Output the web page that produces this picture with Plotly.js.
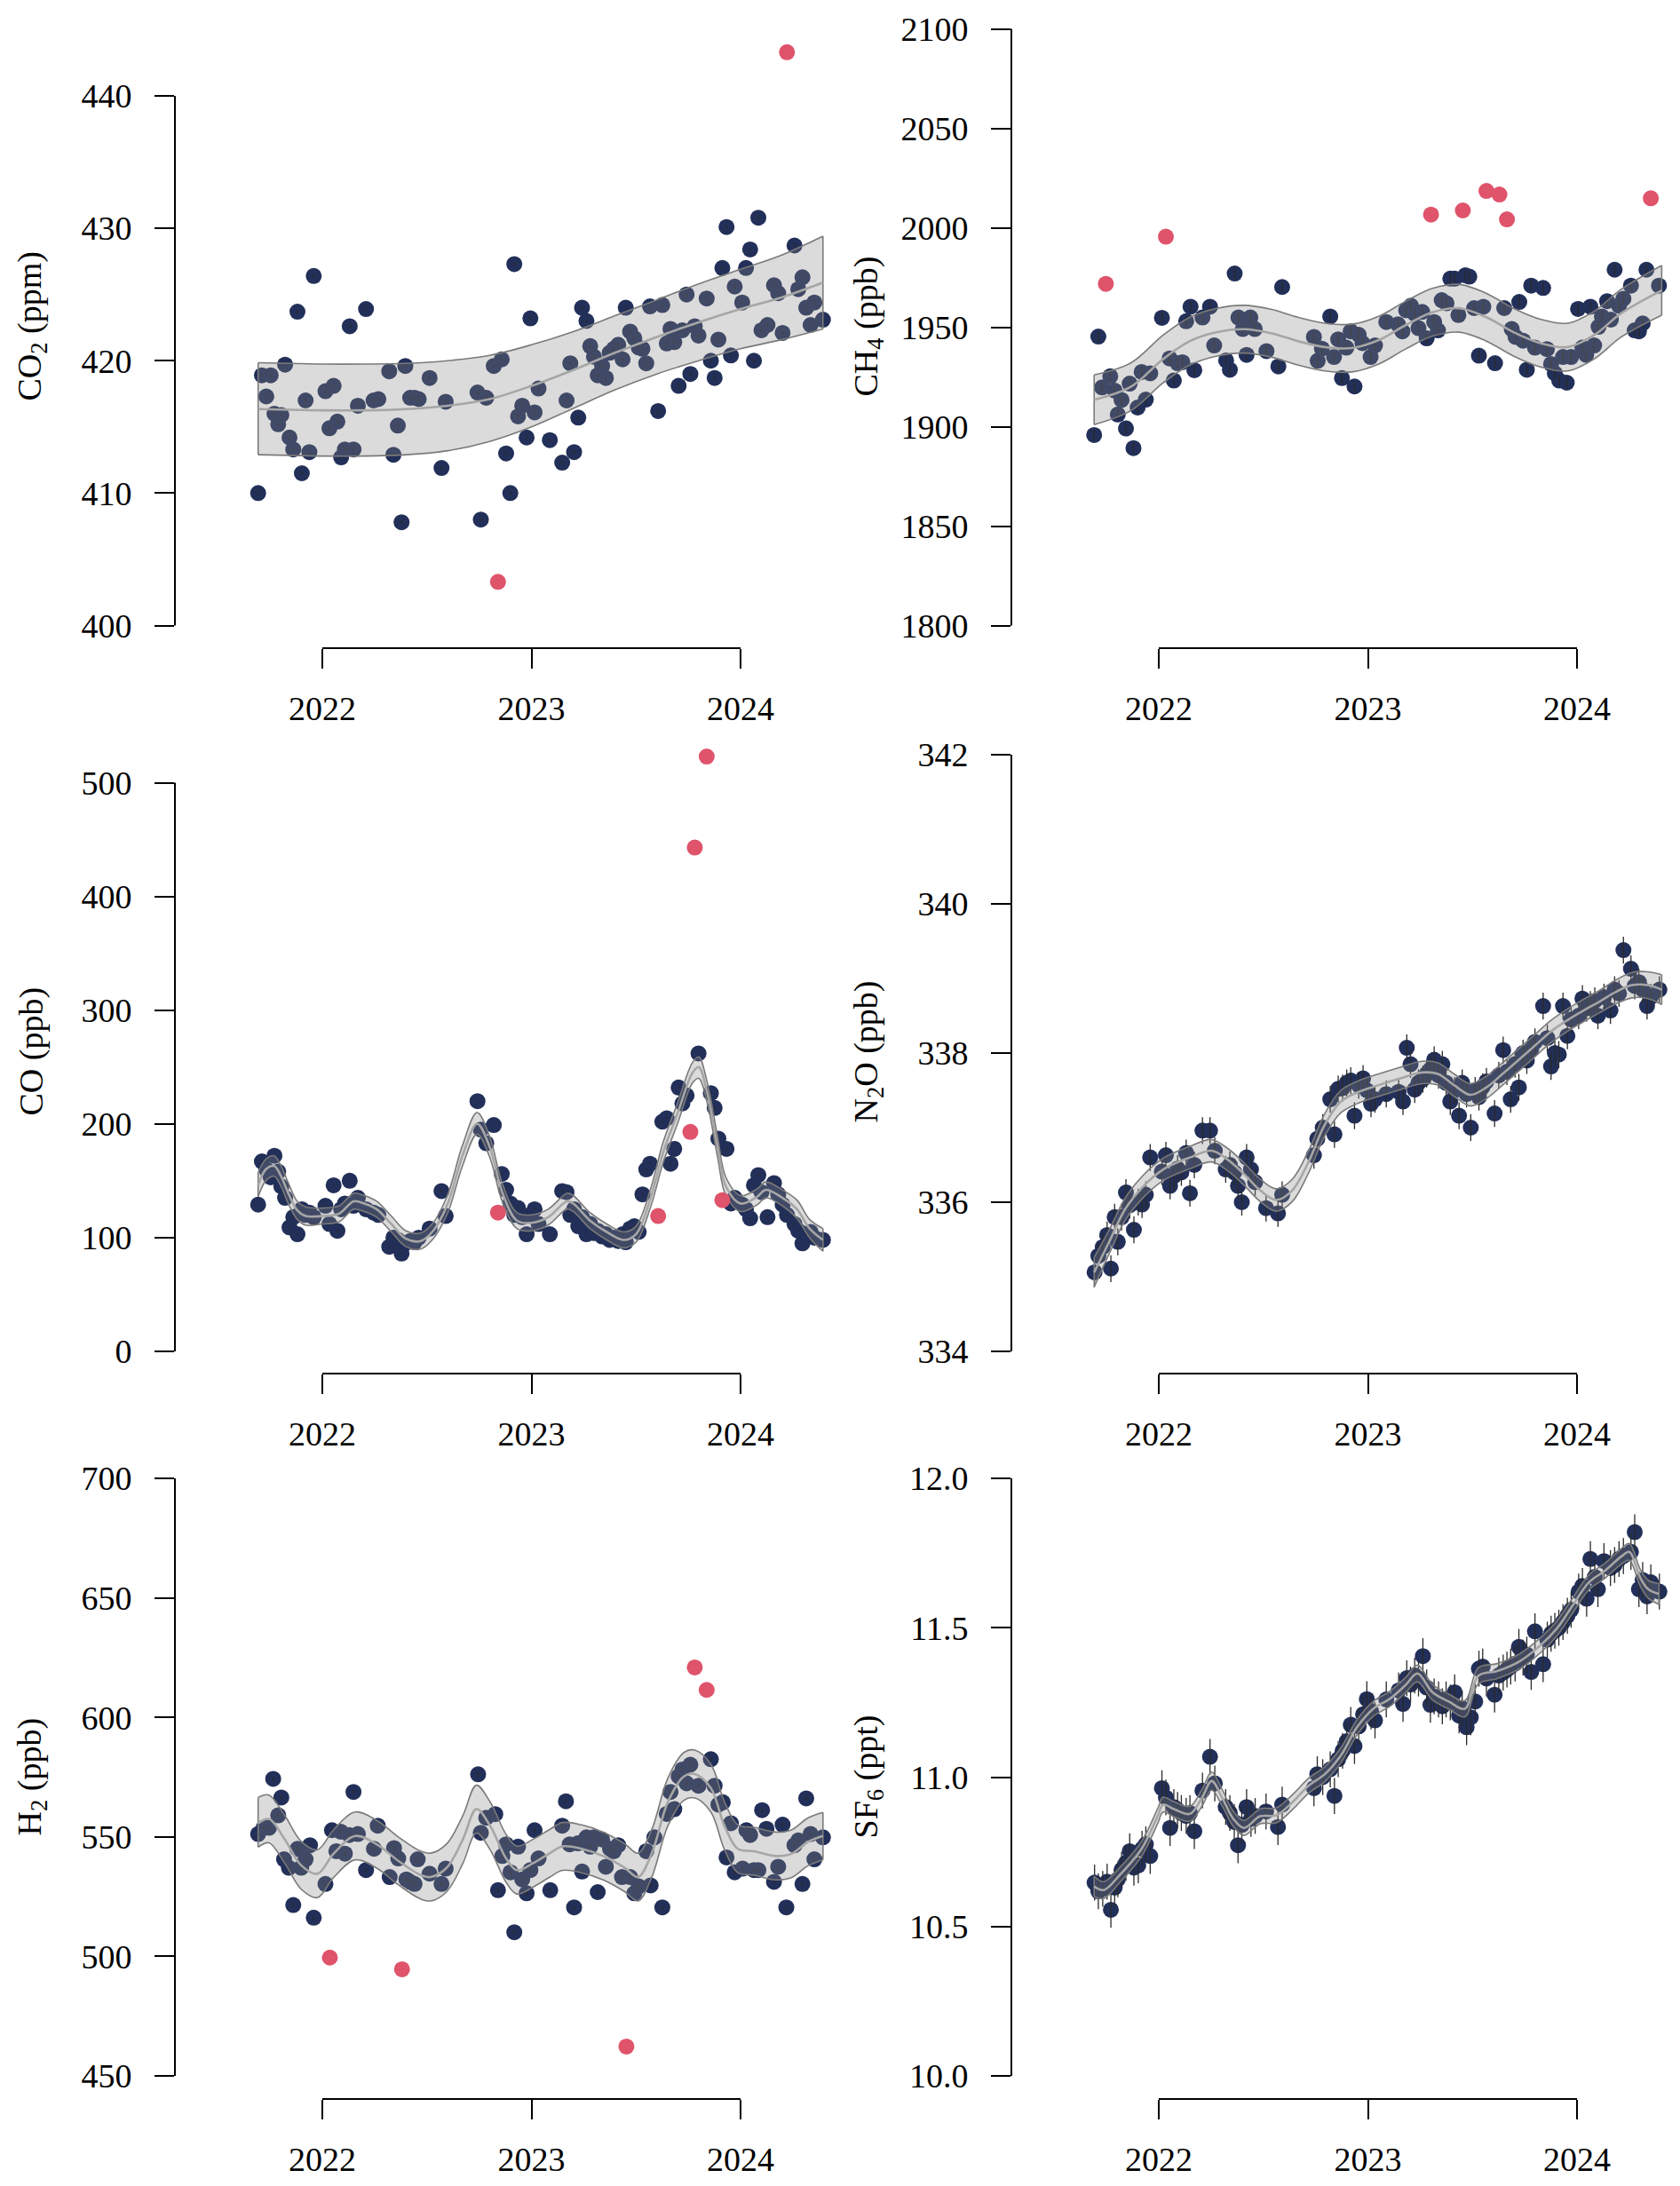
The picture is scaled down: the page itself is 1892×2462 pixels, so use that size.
<!DOCTYPE html>
<html>
<head>
<meta charset="utf-8">
<script src="https://cdn.plot.ly/plotly-3.0.1.min.js"></script>
<style>
  body { margin: 0; background: #fff; }
  #chart { width: 1892px; height: 2462px; }
</style>
</head>
<body>
<div id="chart"></div>
<script>
// sampling dates (decimal years) shared by CO2, CO, N2O and SF6
var sampleYears = [2021.693, 2021.711, 2021.732, 2021.753, 2021.771, 2021.789, 2021.804, 2021.822, 2021.843, 2021.861,
  2021.881, 2021.902, 2021.920, 2021.938, 2021.959, 2022.015, 2022.034, 2022.054, 2022.072, 2022.090,
  2022.108, 2022.131, 2022.149, 2022.170, 2022.209, 2022.245, 2022.268, 2022.320, 2022.340, 2022.361,
  2022.379, 2022.397, 2022.420, 2022.441, 2022.461, 2022.513, 2022.570, 2022.590, 2022.742, 2022.758,
  2022.784, 2022.820, 2022.840, 2022.858, 2022.879, 2022.899, 2022.918, 2022.936, 2022.956, 2022.977,
  2022.995, 2023.015, 2023.034, 2023.088, 2023.147, 2023.168, 2023.186, 2023.204, 2023.224, 2023.242,
  2023.263, 2023.281, 2023.299, 2023.317, 2023.338, 2023.356, 2023.374, 2023.394, 2023.415, 2023.436,
  2023.451, 2023.472, 2023.492, 2023.513, 2023.531, 2023.549, 2023.567, 2023.606, 2023.626, 2023.647,
  2023.665, 2023.683, 2023.704, 2023.722, 2023.742, 2023.760, 2023.781, 2023.799, 2023.838, 2023.858,
  2023.876, 2023.894, 2023.913, 2023.933, 2023.954, 2023.972, 2024.008, 2024.026, 2024.046, 2024.064,
  2024.085, 2024.100, 2024.129, 2024.160, 2024.180, 2024.201, 2024.222, 2024.258, 2024.276, 2024.296,
  2024.314, 2024.335, 2024.353, 2024.394];

// ---- CO2 (ppm) ----
var co2Vals = [410.0, 418.9, 417.3, 418.9, 416.0, 415.2, 415.9, 419.7, 414.2, 413.3,
  423.7, 411.5, 417.0, 413.1, 426.4, 417.7, 414.9, 418.1, 415.4, 412.7,
  413.3, 422.6, 413.3, 416.6, 423.9, 417.0, 417.1, 419.2, 412.9, 415.1,
  407.8, 419.6, 417.2, 417.2, 417.1, 418.7, 411.9, 416.9, 417.6, 408.0,
  417.2, 419.6, null, 420.1, 413.0, 410.0, 427.3, 415.8, 416.6, 414.2,
  423.2, 416.1, 417.9, 414.0, 412.3, 417.0, 419.8, 413.1, 415.7, 424.0,
  423.0, 421.1, 420.3, 418.9, 419.6, 418.7, 420.6, 420.9, 421.2, 420.1,
  424.0, 422.2, 421.7, 421.0, 420.9, 419.8, 424.1, 416.2, 424.2, 421.3,
  422.4, 421.4, 418.1, 422.3, 425.0, 419.0, 422.6, 421.9, 424.7, 420.0,
  418.7, 421.6, 427.0, 430.1, 420.4, 425.6, 424.4, 427.0, 428.4, 420.0,
  430.8, 422.3, 422.7, 425.7, 425.1, 422.1, null, 428.7, 425.4, 426.3,
  424.0, 422.7, 424.4, 423.1];
var co2OutYears = [2022.840, 2024.222];
var co2OutVals = [403.3, 443.3];
var co2BandYears = [2021.693, 2021.85, 2022.0, 2022.2, 2022.4, 2022.6, 2022.8, 2023.0, 2023.2, 2023.4, 2023.6, 2023.8, 2024.0, 2024.2, 2024.394];
var co2BandLo  = [412.9, 412.85, 412.8, 412.8, 412.9, 413.2, 413.9, 415.0, 416.4, 417.8, 419.0, 420.0, 420.9, 421.6, 422.4];
var co2BandMid = [416.35, 416.3, 416.25, 416.25, 416.35, 416.6, 417.1, 418.1, 419.3, 420.6, 421.8, 422.9, 423.9, 424.8, 425.9];
var co2BandHi  = [419.85, 419.8, 419.75, 419.75, 419.8, 420.0, 420.4, 421.2, 422.2, 423.4, 424.6, 425.8, 426.9, 428.0, 429.4];

// ---- CH4 (ppb) ----
var ch4Years = [2021.691, 2021.711, 2021.729, 2021.768, 2021.789, 2021.804, 2021.822, 2021.843, 2021.861, 2021.879,
  2021.899, 2021.918, 2021.938, 2021.959, 2022.015, 2022.052, 2022.072, 2022.090, 2022.113, 2022.131,
  2022.152, 2022.170, 2022.209, 2022.245, 2022.265, 2022.322, 2022.340, 2022.363, 2022.381, 2022.402,
  2022.420, 2022.438, 2022.459, 2022.515, 2022.572, 2022.590, 2022.742, 2022.760, 2022.780, 2022.820,
  2022.838, 2022.858, 2022.876, 2022.897, 2022.918, 2022.936, 2022.956, 2022.974, 2023.013, 2023.034,
  2023.088, 2023.144, 2023.165, 2023.183, 2023.206, 2023.224, 2023.242, 2023.260, 2023.281, 2023.317,
  2023.335, 2023.353, 2023.376, 2023.394, 2023.415, 2023.433, 2023.466, 2023.485, 2023.508, 2023.531,
  2023.552, 2023.608, 2023.652, 2023.688, 2023.706, 2023.724, 2023.742, 2023.760, 2023.781, 2023.799,
  2023.838, 2023.856, 2023.876, 2023.894, 2023.915, 2023.933, 2023.951, 2023.972, 2024.005, 2024.026,
  2024.044, 2024.064, 2024.082, 2024.103, 2024.119, 2024.144, 2024.162, 2024.180, 2024.201, 2024.222,
  2024.258, 2024.276, 2024.296, 2024.314, 2024.332, 2024.392];
var ch4Vals = [1895.8, 1945.3, 1919.7, 1925.3, 1918.1, 1906.1, 1913.4, 1899.1, 1921.6, 1889.2,
  1909.6, 1927.5, 1913.6, 1926.8, 1954.7, 1934.3, 1923.2, 1931.9, 1932.4, 1953.0,
  1960.3, 1928.4, 1954.9, 1960.3, 1940.8, 1933.3, 1928.6, 1977.0, 1954.9, 1949.1,
  1936.1, 1954.9, 1949.1, 1938.0, 1930.3, 1970.2, 1945.1, 1933.1, 1939.2, 1955.4,
  1935.0, 1943.9, 1924.4, 1939.7, 1947.9, 1920.2, 1946.2, 1942.0, 1935.0, 1940.8,
  1952.6, 1951.4, 1947.9, 1958.5, 1960.8, 1956.8, 1949.5, 1957.7, 1944.4, 1952.6,
  1948.4, 1963.6, 1962.0, 1974.4, 1974.4, 1956.1, 1976.1, 1975.4, 1959.6, 1935.7,
  1960.3, 1931.9, 1959.6, 1949.1, 1945.1, 1962.7, 1943.2, 1928.6, 1970.9, 1939.7,
  1969.7, 1939.0, 1931.5, 1926.8, 1923.2, 1935.0, 1922.1, 1935.0, 1959.2, 1939.7,
  1936.1, 1960.3, 1940.8, 1950.2, 1955.4, 1963.1, 1953.8, 1978.9, 1960.8, 1964.3,
  1970.9, 1948.4, 1947.9, 1951.9, 1978.9, 1970.9];
var ch4OutYears = [2021.747, 2022.034, 2023.302, 2023.454, 2023.567, 2023.629, 2023.665, 2024.353];
var ch4OutVals = [1971.8, 1995.5, 2006.6, 2008.7, 2018.5, 2016.7, 2004.2, 2014.8];
var ch4BandYears = [2021.691, 2021.866, 2022.021, 2022.149, 2022.278, 2022.407, 2022.536, 2022.665, 2022.794, 2022.923, 2023.052,
  2023.180, 2023.309, 2023.438, 2023.567, 2023.696, 2023.825, 2023.954, 2024.082, 2024.211, 2024.405];
var ch4BandLo  = [1901, 1908, 1922, 1931, 1935.5, 1937, 1935, 1931, 1928, 1927.5, 1931.5, 1939, 1945.5, 1947.5, 1943, 1935.5, 1930, 1928, 1934, 1945, 1956];
var ch4BandMid = [1913.5, 1920, 1934, 1943, 1947.5, 1949, 1947, 1943, 1940, 1939.5, 1943.5, 1951, 1957.5, 1959.5, 1955, 1947.5, 1942, 1940, 1946, 1957, 1968.5];
var ch4BandHi  = [1926, 1932, 1946, 1955, 1959.5, 1961, 1959, 1955, 1952, 1951.5, 1955.5, 1963, 1969.5, 1971.5, 1967, 1959.5, 1954, 1952, 1958, 1969, 1981];

// ---- CO (ppb) ----
var coVals = [129, 167, 160, 153, 172, 158, 145, 135, 109, 118,
  103, 125, 120, 122, 118, 128, 112, 146, 106, 125,
  130, 150, 128, 135, 125, 122, 120, 92, 100, 98,
  86, 95, 97, 96, 100, 108, 141, 119, 220, 195,
  183, 199, null, 156, 142, 130, 120, 126, 118, 103,
  120, 125, 112, 103, 141, 140, 120, 125, 110, 118,
  103, 112, 104, 106, 101, 103, 98, 100, 97, 103,
  96, 108, 110, 105, 138, 160, 165, null, 202, 205,
  165, 178, 232, 218, 225, null, null, 262, null, 227,
  214, 187, null, 178, 130, 135, 129, 125, 117, 146,
  155, 140, 118, 148, 138, 129, 120, 112, 106, 95,
  103, 105, 100, 98];
var coOutYears = [2022.840, 2023.606, 2023.760, 2023.781, 2023.838, 2023.913];
var coOutVals = [122, 119, 193, 443, 523, 133];
var coBandYears = [2021.693, 2021.73, 2021.77, 2021.80, 2021.84, 2021.88, 2021.92, 2022.00, 2022.08, 2022.15, 2022.20, 2022.26,
  2022.33, 2022.40, 2022.47, 2022.53, 2022.60, 2022.67, 2022.74, 2022.80, 2022.86, 2022.93, 2023.00, 2023.08,
  2023.17, 2023.20, 2023.28, 2023.36, 2023.44, 2023.50, 2023.57, 2023.63, 2023.70, 2023.77, 2023.80, 2023.84,
  2023.89, 2023.93, 2024.00, 2024.08, 2024.12, 2024.20, 2024.27, 2024.33, 2024.394];
var coBandLo  = [136, 150, 154, 146, 129, 116, 111, 112, 114, 125, 123, 118, 105, 92, 90, 99, 122, 163, 191, 171, 132, 108, 106, 111,
  125, 123, 108, 98, 91, 96, 127, 166, 201, 236, 240, 219, 171, 137, 123, 129, 135, 128, 117, 100, 88];
var coBandMid = [146, 160, 163, 155, 138, 124, 119, 119, 121, 132, 130, 125, 112, 99, 97, 106, 130, 172, 200, 180, 140, 115, 113, 118,
  132, 130, 115, 105, 98, 103, 135, 175, 210, 245, 250, 228, 180, 145, 130, 136, 142, 135, 125, 108, 98];
var coBandHi  = [157, 169, 172, 164, 147, 132, 127, 126, 128, 139, 137, 132, 119, 106, 104, 113, 138, 181, 210, 189, 148, 122, 120, 125,
  139, 137, 122, 112, 105, 110, 143, 184, 219, 254, 259, 237, 189, 153, 137, 143, 149, 142, 133, 116, 108];

// ---- N2O (ppb) ----
var n2oVals = [335.06, 335.28, 335.40, 335.56, 335.11, 335.80, 335.47, 335.80, 336.13, 335.96,
  335.63, 336.00, 335.97, 336.10, 336.60, 336.41, 336.63, 336.22, 336.35, 336.45,
  336.40, 336.66, 336.12, 336.50, 336.96, 336.96, 336.69, 336.44, 336.50, 336.40,
  336.22, 336.00, 336.60, 336.44, 336.27, 335.92, 335.85, 336.10, 336.63, 336.85,
  337.00, 337.38, 336.91, 337.52, 337.53, 337.60, 337.63, 337.16, 337.57, 337.66,
  337.50, 337.32, 337.38, 337.45, 337.48, 337.35, 338.07, 337.85, 337.51, 337.60,
  337.65, 337.72, 337.78, 337.91, 337.70, 337.85, 337.60, 337.35, 337.50, 337.16,
  337.60, 337.45, 337.00, 337.50, 337.41, 337.55, 337.62, 337.19, 337.70, 338.04,
  337.75, 337.38, 337.85, 337.54, 338.00, 337.90, 338.05, 338.15, 338.63, 338.20,
  337.82, 338.00, 337.98, 338.63, 338.23, 338.45, 338.50, 338.73, 338.60, 338.65,
  338.70, 338.50, 338.75, 338.57, 338.85, 338.80, 339.38, 339.13, 338.90, 338.95,
  338.85, 338.63, 338.75, 338.85];
var n2oOutYears = [];
var n2oOutVals = [];
var n2oBandYears = [2021.691, 2021.763, 2021.840, 2021.918, 2022.021, 2022.149, 2022.253, 2022.330, 2022.407, 2022.485, 2022.562, 2022.639,
  2022.716, 2022.794, 2022.871, 2022.948, 2023.052, 2023.155, 2023.258, 2023.335, 2023.412, 2023.490, 2023.567, 2023.644,
  2023.722, 2023.799, 2023.876, 2023.954, 2024.031, 2024.108, 2024.186, 2024.263, 2024.340, 2024.405];
var n2oBandLo  = [334.86, 335.31, 335.76, 336.04, 336.29, 336.45, 336.54, 336.42, 336.23, 336.01, 335.88, 336.01,
  336.39, 336.89, 337.20, 337.32, 337.42, 337.51, 337.59, 337.57, 337.42, 337.29, 337.39, 337.57,
  337.76, 337.95, 338.14, 338.29, 338.42, 338.54, 338.66, 338.74, 338.73, 338.65];
var n2oBandMid = [335.06, 335.47, 335.91, 336.19, 336.44, 336.60, 336.69, 336.57, 336.38, 336.16, 336.03, 336.16,
  336.54, 337.04, 337.35, 337.47, 337.57, 337.66, 337.74, 337.72, 337.57, 337.44, 337.54, 337.72,
  337.91, 338.10, 338.29, 338.44, 338.57, 338.69, 338.82, 338.91, 338.91, 338.85];
var n2oBandHi  = [335.26, 335.63, 336.06, 336.34, 336.59, 336.75, 336.84, 336.72, 336.53, 336.31, 336.18, 336.31,
  336.69, 337.19, 337.50, 337.62, 337.72, 337.81, 337.89, 337.87, 337.72, 337.59, 337.69, 337.87,
  338.06, 338.25, 338.44, 338.59, 338.72, 338.84, 338.98, 339.08, 339.09, 339.05];

// ---- H2 (ppb) ----
var h2Years = [2021.693, 2021.719, 2021.745, 2021.765, 2021.789, 2021.804, 2021.817, 2021.840, 2021.861, 2021.881,
  2021.899, 2021.920, 2021.941, 2021.959, 2022.015, 2022.046, 2022.067, 2022.088, 2022.108, 2022.129,
  2022.149, 2022.170, 2022.209, 2022.247, 2022.265, 2022.322, 2022.343, 2022.363, 2022.402, 2022.420,
  2022.441, 2022.456, 2022.513, 2022.570, 2022.590, 2022.745, 2022.758, 2022.784, 2022.827, 2022.840,
  2022.861, 2022.879, 2022.900, 2022.918, 2022.936, 2022.956, 2022.977, 2022.995, 2023.015, 2023.034,
  2023.090, 2023.147, 2023.165, 2023.183, 2023.204, 2023.222, 2023.242, 2023.263, 2023.281, 2023.299,
  2023.317, 2023.338, 2023.356, 2023.376, 2023.394, 2023.415, 2023.433, 2023.472, 2023.492, 2023.513,
  2023.549, 2023.570, 2023.588, 2023.626, 2023.647, 2023.665, 2023.683, 2023.704, 2023.722, 2023.742,
  2023.760, 2023.799, 2023.858, 2023.876, 2023.894, 2023.915, 2023.933, 2023.954, 2023.972, 2024.010,
  2024.028, 2024.046, 2024.064, 2024.085, 2024.103, 2024.124, 2024.160, 2024.180, 2024.201, 2024.219,
  2024.258, 2024.276, 2024.296, 2024.314, 2024.335, 2024.353, 2024.394];
var h2Vals = [551.2, 553.8, 553.8, 574.3, 559.0, 566.5, 540.6, 537.1, 521.5, 545.0,
  537.1, 540.6, 546.5, 516.2, 530.3, 552.8, 544.0, 552.2, 543.0, 550.8,
  568.8, 551.2, 536.1, 545.0, 554.7, 533.2, 545.3, 541.0, 532.2, 531.2,
  530.3, 540.6, 534.6, 530.3, 536.7, 576.2, 551.7, 558.0, 559.5, 527.7,
  542.0, 546.9, 535.2, 510.1, 545.9, 532.2, 526.4, 536.1, 552.8, 541.0,
  527.7, 554.7, 564.9, 546.9, 520.5, 547.3, 535.5, 549.8, 545.9, 549.8,
  526.9, 548.9, 537.5, 545.0, 544.0, 546.5, 533.2, 533.2, 526.4, 529.3,
  544.0, 529.7, 549.8, 520.5, 559.6, 568.8, 561.6, 575.3, 578.2, 572.4,
  580.2, 571.4, 582.5, 571.4, 563.5, 564.5, 541.4, 555.7, 535.2, 536.7,
  552.8, 550.8, 536.1, 536.1, 561.2, 553.4, 531.2, 537.5, 555.1, 520.5,
  546.5, 548.5, 530.3, 566.1, 551.2, 540.6, 549.8];
var h2OutYears = [2022.036, 2022.381, 2023.454, 2023.781, 2023.838];
var h2OutVals = [499.5, 494.6, 462.3, 620.9, 611.5];
var h2BandYears = [2021.693, 2021.745, 2021.82, 2021.90, 2021.977, 2022.054, 2022.157, 2022.260, 2022.363, 2022.466, 2022.518, 2022.595,
  2022.672, 2022.737, 2022.802, 2022.879, 2022.930, 2023.008, 2023.085, 2023.149, 2023.240, 2023.343, 2023.446, 2023.510,
  2023.575, 2023.652, 2023.729, 2023.781, 2023.858, 2023.923, 2023.987, 2024.064, 2024.168, 2024.245, 2024.322, 2024.394];
var h2BandLo  = [545.7, 547.5, 539, 528, 524.6, 533, 540.4, 536.9, 530, 524.2, 523.2, 527.1,
  538.9, 551.6, 544.7, 531, 526.1, 529, 533, 536, 535, 532, 527.1, 523.2,
  533, 554.5, 565.3, 566.3, 560.4, 544.7, 535, 534, 532, 533, 537.9, 540.4];
var h2BandMid = [555.7, 557.5, 549, 538, 534.6, 543, 550.4, 546.9, 540, 534.2, 533.2, 537.1,
  548.9, 561.6, 554.7, 541, 536.1, 539, 543, 546, 545, 542, 537.1, 533.2,
  543, 564.5, 575.3, 576.3, 570.4, 554.7, 545, 544, 542, 543, 547.9, 550.4];
var h2BandHi  = [566.5, 567.5, 559, 548, 544.6, 553, 560.4, 556.9, 550, 544.2, 543.2, 547.1,
  558.9, 571.6, 564.7, 551, 546.1, 549, 553, 556, 555, 552, 547.1, 543.2,
  553, 574.5, 585.3, 586.3, 580.4, 564.7, 555, 554, 552, 553, 557.9, 560.2];

// ---- SF6 (ppt) ----
var sf6Vals = [10.647, 10.618, 10.626, 10.650, 10.556, 10.630, 10.658, 10.690, 10.713, 10.752,
  10.697, 10.705, 10.760, 10.775, 10.736, 10.963, 10.932, 10.830, 10.900, 10.890,
  10.880, 10.870, 10.880, 10.819, 10.955, 11.068, 10.979, 10.900, 10.880, 10.850,
  10.772, 10.840, 10.900, 10.860, 10.870, 10.885, 10.833, 10.908, 10.963, 11.010,
  11.000, 11.026, 10.937, 11.060, 11.088, 11.120, 11.175, 11.104, 11.170, 11.210,
  11.261, 11.220, 11.190, 11.260, 11.290, 11.245, 11.331, 11.310, 11.340, 11.330,
  11.405, 11.300, 11.242, 11.270, 11.260, 11.237, 11.260, 11.250, 11.284, 11.206,
  11.230, 11.167, 11.200, 11.253, 11.363, 11.370, 11.330, 11.276, 11.340, 11.350,
  11.360, 11.370, 11.380, 11.436, 11.400, 11.410, 11.352, 11.488, 11.378, 11.460,
  11.480, 11.490, 11.500, 11.519, 11.540, 11.560, 11.621, 11.640, 11.597, 11.730,
  11.670, 11.629, 11.723, 11.700, 11.710, 11.730, 11.740, 11.754, 11.820, 11.629,
  11.660, 11.605, 11.652, 11.621];
var sf6OutYears = [];
var sf6OutVals = [];
var sf6BandYears = [2021.691, 2021.737, 2021.814, 2021.918, 2021.995, 2022.021, 2022.072, 2022.149, 2022.206, 2022.253,
  2022.304, 2022.356, 2022.407, 2022.485, 2022.562, 2022.639, 2022.716, 2022.794, 2022.871, 2022.948,
  2023.026, 2023.103, 2023.180, 2023.237, 2023.309, 2023.387, 2023.464, 2023.528, 2023.619, 2023.722,
  2023.825, 2023.902, 2023.979, 2024.057, 2024.134, 2024.211, 2024.250, 2024.302, 2024.340, 2024.392];
var sf6BandLo  = [10.600, 10.594, 10.648, 10.735, 10.845, 10.883, 10.868, 10.852, 10.902, 10.957,
  10.903, 10.836, 10.805, 10.844, 10.847, 10.891, 10.946, 10.985, 11.048, 11.142,
  11.204, 11.236, 11.283, 11.319, 11.258, 11.228, 11.202, 11.312, 11.330, 11.361,
  11.416, 11.471, 11.549, 11.627, 11.666, 11.712, 11.726, 11.640, 11.599, 11.578];
var sf6BandMid = [10.634, 10.622, 10.673, 10.760, 10.870, 10.908, 10.893, 10.877, 10.930, 10.987,
  10.930, 10.861, 10.830, 10.869, 10.872, 10.916, 10.971, 11.010, 11.073, 11.167,
  11.229, 11.261, 11.308, 11.347, 11.284, 11.253, 11.229, 11.339, 11.355, 11.386,
  11.441, 11.496, 11.574, 11.652, 11.691, 11.738, 11.754, 11.668, 11.629, 11.613];
var sf6BandHi  = [10.668, 10.650, 10.698, 10.785, 10.895, 10.933, 10.918, 10.902, 10.958, 11.017,
  10.957, 10.886, 10.855, 10.894, 10.897, 10.941, 10.996, 11.035, 11.098, 11.192,
  11.254, 11.286, 11.333, 11.375, 11.310, 11.278, 11.256, 11.366, 11.380, 11.411,
  11.466, 11.521, 11.599, 11.677, 11.716, 11.764, 11.782, 11.696, 11.659, 11.648];

// measurement uncertainty (half length of the error bars)
var co2Err = 0.12, ch4Err = 2.6, coErr = 0.8, n2oErr = 0.18, h2Err = 0.8, sf6Err = 0.06;

// y axis ticks
var co2Ticks = [400, 410, 420, 430, 440];
var ch4Ticks = [1800, 1850, 1900, 1950, 2000, 2050, 2100];
var coTicks  = [0, 100, 200, 300, 400, 500];
var n2oTicks = [334, 336, 338, 340, 342];
var h2Ticks  = [450, 500, 550, 600, 650, 700];
var sf6Ticks = [10.0, 10.5, 11.0, 11.5, 12.0];
var yearTicks = [2022, 2023, 2024];

// page geometry (pixels)
var W = 1892, H = 2462;
var colLeft = [197, 1139];
var rowBottom = [730, 1547, 2364];
var plotW = 743, plotH = 725;
var pxPerYear = 235.5;
var yAxisToFirstYear = 166;
var fontSize = 38;

var navy = '#222f58';
var red = '#DF536B';

var panels = [
  {title: 'CO<sub>2</sub> (ppm)', years: sampleYears, vals: co2Vals, err: co2Err, outYears: co2OutYears, outVals: co2OutVals,
   bandYears: co2BandYears, lo: co2BandLo, mid: co2BandMid, hi: co2BandHi, ticks: co2Ticks, loOff: 25.5, hiOff: 622, fmt: ''},
  {title: 'CH<sub>4</sub> (ppb)', years: ch4Years, vals: ch4Vals, err: ch4Err, outYears: ch4OutYears, outVals: ch4OutVals,
   bandYears: ch4BandYears, lo: ch4BandLo, mid: ch4BandMid, hi: ch4BandHi, ticks: ch4Ticks, loOff: 25.5, hiOff: 697.5, fmt: ''},
  {title: 'CO (ppb)', years: sampleYears, vals: coVals, err: coErr, outYears: coOutYears, outVals: coOutVals,
   bandYears: coBandYears, lo: coBandLo, mid: coBandMid, hi: coBandHi, ticks: coTicks, loOff: 25, hiOff: 665.5, fmt: ''},
  {title: 'N<sub>2</sub>O (ppb)', years: sampleYears, vals: n2oVals, err: n2oErr, outYears: n2oOutYears, outVals: n2oOutVals,
   bandYears: n2oBandYears, lo: n2oBandLo, mid: n2oBandMid, hi: n2oBandHi, ticks: n2oTicks, loOff: 25, hiOff: 697, fmt: ''},
  {title: 'H<sub>2</sub> (ppb)', years: h2Years, vals: h2Vals, err: h2Err, outYears: h2OutYears, outVals: h2OutVals,
   bandYears: h2BandYears, lo: h2BandLo, mid: h2BandMid, hi: h2BandHi, ticks: h2Ticks, loOff: 26, hiOff: 699, fmt: ''},
  {title: 'SF<sub>6</sub> (ppt)', years: sampleYears, vals: sf6Vals, err: sf6Err, outYears: sf6OutYears, outVals: sf6OutVals,
   bandYears: sf6BandYears, lo: sf6BandLo, mid: sf6BandMid, hi: sf6BandHi, ticks: sf6Ticks, loOff: 26, hiOff: 699, fmt: '.1f'}
];

var data = [];
var layout = {
  width: W,
  height: H,
  margin: {l: 0, r: 0, t: 0, b: 0},
  paper_bgcolor: '#ffffff',
  plot_bgcolor: 'rgba(0,0,0,0)',
  showlegend: false,
  font: {family: '"Liberation Serif", "Times New Roman", serif', size: fontSize, color: '#000'},
  shapes: [],
  annotations: []
};

var xMin = 2022 - yAxisToFirstYear / pxPerYear;
var xMax = xMin + plotW / pxPerYear;

panels.forEach(function(p, i) {
  var s = i === 0 ? '' : String(i + 1);
  var col = i % 2, row = Math.floor(i / 2);
  var xa = 'x' + s, ya = 'y' + s;

  // y range so that lowest / highest ticks land on their pixel rows
  var vLo = p.ticks[0], vHi = p.ticks[p.ticks.length - 1];
  var ppu = (p.hiOff - p.loOff) / (vHi - vLo);
  var yMin = vLo - p.loOff / ppu;
  var yMax = yMin + plotH / ppu;

  // points
  data.push({x: p.years, y: p.vals, xaxis: xa, yaxis: ya, mode: 'markers', type: 'scatter',
    marker: {size: 18, color: navy, line: {width: 0}}, hoverinfo: 'skip'});
  // error bars on top of the points
  data.push({x: p.years, y: p.vals, xaxis: xa, yaxis: ya, mode: 'markers', type: 'scatter',
    marker: {size: 1, color: 'rgba(0,0,0,0)'}, hoverinfo: 'skip',
    error_y: {type: 'constant', value: p.err, width: 0, thickness: 1.3, color: '#2a2a2a'}});
  // confidence band
  data.push({x: p.bandYears, y: p.lo, xaxis: xa, yaxis: ya, mode: 'lines', type: 'scatter',
    line: {color: '#7a7a7a', width: 1.6, shape: 'spline', smoothing: 1}, hoverinfo: 'skip'});
  data.push({x: p.bandYears, y: p.hi, xaxis: xa, yaxis: ya, mode: 'lines', type: 'scatter',
    fill: 'tonexty', fillcolor: 'rgba(135,135,135,0.30)',
    line: {color: '#7a7a7a', width: 1.6, shape: 'spline', smoothing: 1}, hoverinfo: 'skip'});
  var last = p.bandYears.length - 1;
  data.push({x: [p.bandYears[0], p.bandYears[0], null, p.bandYears[last], p.bandYears[last]],
    y: [p.lo[0], p.hi[0], null, p.lo[last], p.hi[last]], xaxis: xa, yaxis: ya, mode: 'lines', type: 'scatter',
    line: {color: '#7a7a7a', width: 1.6}, hoverinfo: 'skip'});
  // fitted curve
  data.push({x: p.bandYears, y: p.mid, xaxis: xa, yaxis: ya, mode: 'lines', type: 'scatter',
    line: {color: '#a6a6a6', width: 2.6, shape: 'spline', smoothing: 1}, hoverinfo: 'skip'});
  // flagged outliers
  data.push({x: p.outYears, y: p.outVals, xaxis: xa, yaxis: ya, mode: 'markers', type: 'scatter',
    marker: {size: 18, color: red, line: {width: 0}}, hoverinfo: 'skip', cliponaxis: false});

  layout['xaxis' + s] = {
    domain: [colLeft[col] / W, (colLeft[col] + plotW) / W],
    range: [xMin, xMax],
    anchor: ya,
    tickvals: yearTicks,
    ticktext: yearTicks.map(String),
    ticks: 'outside', ticklen: 22, tickwidth: 2, tickcolor: '#000',
    ticklabelstandoff: 12,
    showgrid: false, zeroline: false, showline: false, fixedrange: true
  };
  layout['yaxis' + s] = {
    domain: [1 - rowBottom[row] / H, 1 - (rowBottom[row] - plotH) / H],
    range: [yMin, yMax],
    anchor: xa,
    tickvals: p.ticks,
    tickformat: p.fmt,
    ticks: 'outside', ticklen: 22, tickwidth: 2, tickcolor: '#000',
    ticklabelstandoff: 18,
    showgrid: false, zeroline: false, showline: false, fixedrange: true
  };

  // detached axis lines spanning first to last tick
  layout.shapes.push({type: 'line', xref: xa + ' domain', yref: ya, x0: 0, x1: 0, y0: vLo, y1: vHi,
    line: {color: '#000', width: 2}});
  layout.shapes.push({type: 'line', xref: xa, yref: ya + ' domain', x0: yearTicks[0], x1: yearTicks[2], y0: 0, y1: 0,
    line: {color: '#000', width: 2}});

  // y axis title
  layout.annotations.push({text: p.title, xref: 'paper', yref: 'paper',
    x: (colLeft[col] - 162) / W, y: 1 - (rowBottom[row] - plotH / 2) / H,
    xanchor: 'center', yanchor: 'middle', textangle: -90, showarrow: false,
    font: {size: fontSize, color: '#000'}});
});

Plotly.newPlot('chart', data, layout, {staticPlot: true, displayModeBar: false});
</script>
</body>
</html>
